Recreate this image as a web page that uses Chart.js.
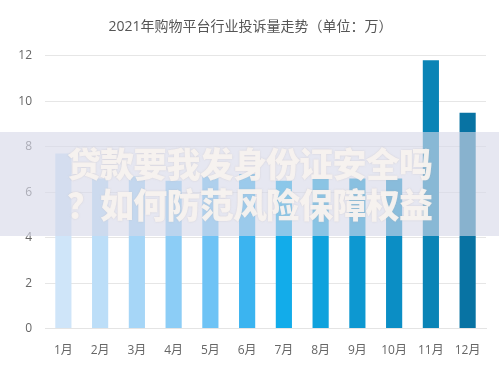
<!DOCTYPE html>
<html>
<head>
<meta charset="utf-8">
<script src="https://cdn.jsdelivr.net/npm/chart.js@4/dist/chart.umd.min.js"></script>
<style>
  html, body { margin: 0; padding: 0; background: #ffffff; }
  #wrap { position: relative; width: 499px; height: 369px; overflow: hidden; }
  canvas { position: absolute; left: 0; top: 0; }
  #band {
    position: absolute; left: 0; top: 132px; width: 499px; height: 104px;
    background: rgba(214, 217, 233, 0.62);
  }
  #band div {
    position: absolute; left: 0; width: 499px; text-align: center;
    font-family: "Noto Sans CJK SC", sans-serif; font-weight: 900;
    font-size: 34px; line-height: 40px; color: rgba(248, 243, 240, 0.95);
    letter-spacing: -0.8px;
    text-shadow: 0 0 2px rgba(180, 170, 170, 0.4);
  }
</style>
</head>
<body>
<div id="wrap">
  <canvas id="c" width="499" height="369"></canvas>
  <div id="band">
    <div style="top:11px;">贷款要我发身份证安全吗</div>
    <div style="top:52px;">？如何防范风险保障权益</div>
  </div>
</div>
<script>
const titleText = "2021年购物平台行业投诉量走势（单位：万）";
const months = ["1月","2月","3月","4月","5月","6月","7月","8月","9月","10月","11月","12月"];
const complaints = [7.7, 6.6, 6.7, 6.5, 6.7, 6.8, 6.5, 6.6, 6.6, 6.6, 11.8, 9.5];
const yTicks = [0, 2, 4, 6, 8, 10, 12];

const barColors = ["#cfe5f9","#bcdef8","#a6d6f7","#8ccdf6","#6ec3f5","#3bb4f0",
                   "#12acea","#0fa2dd","#0d98d1","#0b8ec5","#0a84b6","#0873a3"];

const fontFamily = "'Open Sans', 'Noto Sans CJK SC', sans-serif";

new Chart(document.getElementById("c"), {
  type: "bar",
  data: {
    labels: months,
    datasets: [{
      data: complaints,
      backgroundColor: barColors,
      borderWidth: 0,
      categoryPercentage: 1.0,
      barPercentage: 0.44
    }]
  },
  options: {
    responsive: false,
    animation: false,
    devicePixelRatio: 1,
    layout: { padding: { top: 10, left: 15, right: 13, bottom: -4 } },
    plugins: {
      legend: { display: false },
      tooltip: { enabled: false },
      title: {
        display: true,
        text: titleText,
        color: "#555555",
        font: { family: fontFamily, size: 14, weight: "normal" },
        padding: { top: 9, bottom: 20 }
      }
    },
    scales: {
      x: {
        grid: { display: false, drawTicks: false },
        border: { display: true, color: "#e4e4e4", width: 1 },
        ticks: { color: "#666666", font: { family: fontFamily, size: 12 }, padding: 15, maxRotation: 0 }
      },
      y: {
        min: 0, max: 12,
        afterBuildTicks: (axis) => { axis.ticks = yTicks.map(v => ({ value: v })); },
        afterFit: (axis) => { axis.width = 30; },
        grid: { color: "#e6e6e6", lineWidth: 1, drawTicks: false },
        border: { display: false },
        ticks: { color: "#666666", font: { family: fontFamily, size: 12 }, padding: 13 }
      }
    }
  }
});
</script>
</body>
</html>
